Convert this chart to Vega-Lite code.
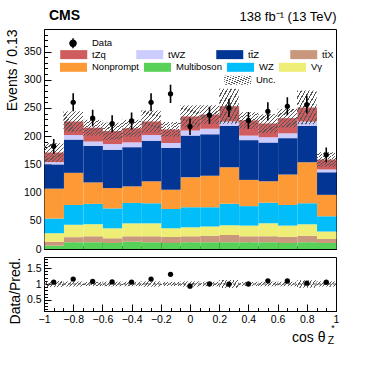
{
"$schema": "https://vega.github.io/schema/vega-lite/v6.json",
"background": "white",
"padding": {"left": 4, "top": 8, "right": 5, "bottom": 5},
"config": {
  "font": "Liberation Sans",
  "view": {"stroke": "black", "strokeWidth": 1},
  "axis": {"domainColor": "black", "tickColor": "black", "labelColor": "black", "titleColor": "black", "labelFontSize": 10.5, "titleFontSize": 14, "titleFontWeight": "normal", "grid": false, "labelFlush": false, "labelOverlap": false, "zindex": 1},
  "legend": {"labelFontSize": 9.5, "labelColor": "black", "padding": 0, "title": null},
  "title": {"color": "black"}
},
"datasets": {
  "stack": [
    {"lo":-1,"hi":-0.8667,"p":"Multiboson","k":1,"v":6},{"lo":-1,"hi":-0.8667,"p":"tt̄X","k":2,"v":7},{"lo":-1,"hi":-0.8667,"p":"Vγ","k":3,"v":15},{"lo":-1,"hi":-0.8667,"p":"WZ","k":4,"v":26},{"lo":-1,"hi":-0.8667,"p":"Nonprompt","k":5,"v":53},{"lo":-1,"hi":-0.8667,"p":"tt̄Z","k":6,"v":43},{"lo":-1,"hi":-0.8667,"p":"tWZ","k":7,"v":4},{"lo":-1,"hi":-0.8667,"p":"tZq","k":8,"v":17},
    {"lo":-0.8667,"hi":-0.7333,"p":"Multiboson","k":1,"v":12},{"lo":-0.8667,"hi":-0.7333,"p":"tt̄X","k":2,"v":9},{"lo":-0.8667,"hi":-0.7333,"p":"Vγ","k":3,"v":22},{"lo":-0.8667,"hi":-0.7333,"p":"WZ","k":4,"v":35},{"lo":-0.8667,"hi":-0.7333,"p":"Nonprompt","k":5,"v":57},{"lo":-0.8667,"hi":-0.7333,"p":"tt̄Z","k":6,"v":59},{"lo":-0.8667,"hi":-0.7333,"p":"tWZ","k":7,"v":8},{"lo":-0.8667,"hi":-0.7333,"p":"tZq","k":8,"v":24},
    {"lo":-0.7333,"hi":-0.6,"p":"Multiboson","k":1,"v":12},{"lo":-0.7333,"hi":-0.6,"p":"tt̄X","k":2,"v":10.5},{"lo":-0.7333,"hi":-0.6,"p":"Vγ","k":3,"v":21.5},{"lo":-0.7333,"hi":-0.6,"p":"WZ","k":4,"v":36},{"lo":-0.7333,"hi":-0.6,"p":"Nonprompt","k":5,"v":38},{"lo":-0.7333,"hi":-0.6,"p":"tt̄Z","k":6,"v":65},{"lo":-0.7333,"hi":-0.6,"p":"tWZ","k":7,"v":7.5},{"lo":-0.7333,"hi":-0.6,"p":"tZq","k":8,"v":24.5},
    {"lo":-0.6,"hi":-0.4667,"p":"Multiboson","k":1,"v":10.7},{"lo":-0.6,"hi":-0.4667,"p":"tt̄X","k":2,"v":8.3},{"lo":-0.6,"hi":-0.4667,"p":"Vγ","k":3,"v":17.7},{"lo":-0.6,"hi":-0.4667,"p":"WZ","k":4,"v":35.3},{"lo":-0.6,"hi":-0.4667,"p":"Nonprompt","k":5,"v":36},{"lo":-0.6,"hi":-0.4667,"p":"tt̄Z","k":6,"v":68},{"lo":-0.6,"hi":-0.4667,"p":"tWZ","k":7,"v":10},{"lo":-0.6,"hi":-0.4667,"p":"tZq","k":8,"v":23},
    {"lo":-0.4667,"hi":-0.3333,"p":"Multiboson","k":1,"v":13},{"lo":-0.4667,"hi":-0.3333,"p":"tt̄X","k":2,"v":9.5},{"lo":-0.4667,"hi":-0.3333,"p":"Vγ","k":3,"v":23},{"lo":-0.4667,"hi":-0.3333,"p":"WZ","k":4,"v":36.2},{"lo":-0.4667,"hi":-0.3333,"p":"Nonprompt","k":5,"v":29.3},{"lo":-0.4667,"hi":-0.3333,"p":"tt̄Z","k":6,"v":69.5},{"lo":-0.4667,"hi":-0.3333,"p":"tWZ","k":7,"v":8.5},{"lo":-0.4667,"hi":-0.3333,"p":"tZq","k":8,"v":25},
    {"lo":-0.3333,"hi":-0.2,"p":"Multiboson","k":1,"v":12},{"lo":-0.3333,"hi":-0.2,"p":"tt̄X","k":2,"v":10.5},{"lo":-0.3333,"hi":-0.2,"p":"Vγ","k":3,"v":23},{"lo":-0.3333,"hi":-0.2,"p":"WZ","k":4,"v":35.5},{"lo":-0.3333,"hi":-0.2,"p":"Nonprompt","k":5,"v":39},{"lo":-0.3333,"hi":-0.2,"p":"tt̄Z","k":6,"v":72},{"lo":-0.3333,"hi":-0.2,"p":"tWZ","k":7,"v":10},{"lo":-0.3333,"hi":-0.2,"p":"tZq","k":8,"v":24},
    {"lo":-0.2,"hi":-0.0667,"p":"Multiboson","k":1,"v":10.7},{"lo":-0.2,"hi":-0.0667,"p":"tt̄X","k":2,"v":10.7},{"lo":-0.2,"hi":-0.0667,"p":"Vγ","k":3,"v":15.3},{"lo":-0.2,"hi":-0.0667,"p":"WZ","k":4,"v":34.3},{"lo":-0.2,"hi":-0.0667,"p":"Nonprompt","k":5,"v":34},{"lo":-0.2,"hi":-0.0667,"p":"tt̄Z","k":6,"v":74},{"lo":-0.2,"hi":-0.0667,"p":"tWZ","k":7,"v":9},{"lo":-0.2,"hi":-0.0667,"p":"tZq","k":8,"v":24},
    {"lo":-0.0667,"hi":0.0667,"p":"Multiboson","k":1,"v":12},{"lo":-0.0667,"hi":0.0667,"p":"tt̄X","k":2,"v":10.5},{"lo":-0.0667,"hi":0.0667,"p":"Vγ","k":3,"v":16},{"lo":-0.0667,"hi":0.0667,"p":"WZ","k":4,"v":35.5},{"lo":-0.0667,"hi":0.0667,"p":"Nonprompt","k":5,"v":53},{"lo":-0.0667,"hi":0.0667,"p":"tt̄Z","k":6,"v":74},{"lo":-0.0667,"hi":0.0667,"p":"tWZ","k":7,"v":9},{"lo":-0.0667,"hi":0.0667,"p":"tZq","k":8,"v":25},
    {"lo":0.0667,"hi":0.2,"p":"Multiboson","k":1,"v":12},{"lo":0.0667,"hi":0.2,"p":"tt̄X","k":2,"v":11.7},{"lo":0.0667,"hi":0.2,"p":"Vγ","k":3,"v":16},{"lo":0.0667,"hi":0.2,"p":"WZ","k":4,"v":34.3},{"lo":0.0667,"hi":0.2,"p":"Nonprompt","k":5,"v":56},{"lo":0.0667,"hi":0.2,"p":"tt̄Z","k":6,"v":73.5},{"lo":0.0667,"hi":0.2,"p":"tWZ","k":7,"v":9.5},{"lo":0.0667,"hi":0.2,"p":"tZq","k":8,"v":25.5},
    {"lo":0.2,"hi":0.3333,"p":"Multiboson","k":1,"v":12},{"lo":0.2,"hi":0.3333,"p":"tt̄X","k":2,"v":13},{"lo":0.2,"hi":0.3333,"p":"Vγ","k":3,"v":17},{"lo":0.2,"hi":0.3333,"p":"WZ","k":4,"v":38},{"lo":0.2,"hi":0.3333,"p":"Nonprompt","k":5,"v":65},{"lo":0.2,"hi":0.3333,"p":"tt̄Z","k":6,"v":73},{"lo":0.2,"hi":0.3333,"p":"tWZ","k":7,"v":8},{"lo":0.2,"hi":0.3333,"p":"tZq","k":8,"v":27},
    {"lo":0.3333,"hi":0.4667,"p":"Multiboson","k":1,"v":12},{"lo":0.3333,"hi":0.4667,"p":"tt̄X","k":2,"v":10.5},{"lo":0.3333,"hi":0.4667,"p":"Vγ","k":3,"v":19},{"lo":0.3333,"hi":0.4667,"p":"WZ","k":4,"v":34.5},{"lo":0.3333,"hi":0.4667,"p":"Nonprompt","k":5,"v":46.5},{"lo":0.3333,"hi":0.4667,"p":"tt̄Z","k":6,"v":70.5},{"lo":0.3333,"hi":0.4667,"p":"tWZ","k":7,"v":8},{"lo":0.3333,"hi":0.4667,"p":"tZq","k":8,"v":27},
    {"lo":0.4667,"hi":0.6,"p":"Multiboson","k":1,"v":12},{"lo":0.4667,"hi":0.6,"p":"tt̄X","k":2,"v":10.5},{"lo":0.4667,"hi":0.6,"p":"Vγ","k":3,"v":23},{"lo":0.4667,"hi":0.6,"p":"WZ","k":4,"v":36.5},{"lo":0.4667,"hi":0.6,"p":"Nonprompt","k":5,"v":38},{"lo":0.4667,"hi":0.6,"p":"tt̄Z","k":6,"v":69},{"lo":0.4667,"hi":0.6,"p":"tWZ","k":7,"v":9},{"lo":0.4667,"hi":0.6,"p":"tZq","k":8,"v":24.5},
    {"lo":0.6,"hi":0.7333,"p":"Multiboson","k":1,"v":10.7},{"lo":0.6,"hi":0.7333,"p":"tt̄X","k":2,"v":10.7},{"lo":0.6,"hi":0.7333,"p":"Vγ","k":3,"v":20.1},{"lo":0.6,"hi":0.7333,"p":"WZ","k":4,"v":36.5},{"lo":0.6,"hi":0.7333,"p":"Nonprompt","k":5,"v":54},{"lo":0.6,"hi":0.7333,"p":"tt̄Z","k":6,"v":64.5},{"lo":0.6,"hi":0.7333,"p":"tWZ","k":7,"v":8.5},{"lo":0.6,"hi":0.7333,"p":"tZq","k":8,"v":27},
    {"lo":0.7333,"hi":0.8667,"p":"Multiboson","k":1,"v":12},{"lo":0.7333,"hi":0.8667,"p":"tt̄X","k":2,"v":11.7},{"lo":0.7333,"hi":0.8667,"p":"Vγ","k":3,"v":20.3},{"lo":0.7333,"hi":0.8667,"p":"WZ","k":4,"v":37},{"lo":0.7333,"hi":0.8667,"p":"Nonprompt","k":5,"v":73},{"lo":0.7333,"hi":0.8667,"p":"tt̄Z","k":6,"v":64},{"lo":0.7333,"hi":0.8667,"p":"tWZ","k":7,"v":8},{"lo":0.7333,"hi":0.8667,"p":"tZq","k":8,"v":25},
    {"lo":0.8667,"hi":1,"p":"Multiboson","k":1,"v":10.7},{"lo":0.8667,"hi":1,"p":"tt̄X","k":2,"v":7.1},{"lo":0.8667,"hi":1,"p":"Vγ","k":3,"v":13.2},{"lo":0.8667,"hi":1,"p":"WZ","k":4,"v":27},{"lo":0.8667,"hi":1,"p":"Nonprompt","k":5,"v":38},{"lo":0.8667,"hi":1,"p":"tt̄Z","k":6,"v":40},{"lo":0.8667,"hi":1,"p":"tWZ","k":7,"v":5},{"lo":0.8667,"hi":1,"p":"tZq","k":8,"v":17.6}
  ],
  "bins": [
    {"lo":-1,"hi":-0.8667,"c":-0.9333,"ulo":154.5,"uhi":187.5,"d":182,"dlo":169,"dhi":195,"r":1.06,"rlo":0.904,"rhi":1.096},
    {"lo":-0.8667,"hi":-0.7333,"c":-0.8,"ulo":208,"uhi":244,"d":260,"dlo":244,"dhi":276,"r":1.155,"rlo":0.92,"rhi":1.08},
    {"lo":-0.7333,"hi":-0.6,"c":-0.6667,"ulo":201,"uhi":229,"d":232,"dlo":217,"dhi":247,"r":1.08,"rlo":0.935,"rhi":1.065},
    {"lo":-0.6,"hi":-0.4667,"c":-0.5333,"ulo":194,"uhi":224,"d":222,"dlo":207,"dhi":237,"r":1.065,"rlo":0.928,"rhi":1.072},
    {"lo":-0.4667,"hi":-0.3333,"c":-0.4,"ulo":199,"uhi":229,"d":227,"dlo":212,"dhi":242,"r":1.06,"rlo":0.93,"rhi":1.07},
    {"lo":-0.3333,"hi":-0.2,"c":-0.2667,"ulo":206.5,"uhi":245.5,"d":260,"dlo":244,"dhi":276,"r":1.155,"rlo":0.914,"rhi":1.086},
    {"lo":-0.2,"hi":-0.0667,"c":-0.1333,"ulo":199,"uhi":225,"d":275,"dlo":259,"dhi":291,"r":1.305,"rlo":0.939,"rhi":1.061},
    {"lo":-0.0667,"hi":0.0667,"c":0,"ulo":215.5,"uhi":254.5,"d":217,"dlo":202,"dhi":232,"r":0.93,"rlo":0.917,"rhi":1.083},
    {"lo":0.0667,"hi":0.2,"c":0.1333,"ulo":222,"uhi":255,"d":237,"dlo":222,"dhi":252,"r":1.0,"rlo":0.931,"rhi":1.069},
    {"lo":0.2,"hi":0.3333,"c":0.2667,"ulo":222,"uhi":284,"d":250,"dlo":234,"dhi":266,"r":0.995,"rlo":0.877,"rhi":1.123},
    {"lo":0.3333,"hi":0.4667,"c":0.4,"ulo":213.5,"uhi":242.5,"d":228,"dlo":213,"dhi":243,"r":1.0,"rlo":0.936,"rhi":1.064},
    {"lo":0.4667,"hi":0.6,"c":0.5333,"ulo":206,"uhi":239,"d":244,"dlo":228,"dhi":260,"r":1.1,"rlo":0.926,"rhi":1.074},
    {"lo":0.6,"hi":0.7333,"c":0.6667,"ulo":215.5,"uhi":248.5,"d":253,"dlo":237,"dhi":269,"r":1.095,"rlo":0.929,"rhi":1.071},
    {"lo":0.7333,"hi":0.8667,"c":0.8,"ulo":221,"uhi":281,"d":256,"dlo":240,"dhi":272,"r":1.025,"rlo":0.88,"rhi":1.12},
    {"lo":0.8667,"hi":1,"c":0.9333,"ulo":145.6,"uhi":171.6,"d":167,"dlo":154,"dhi":180,"r":1.055,"rlo":0.918,"rhi":1.082}
  ]
},
"title": {"text": "CMS", "anchor": "start", "frame": "group", "fontSize": 14, "fontWeight": "bold", "dy": 16, "dx": 5},
"spacing": 1,
"vconcat": [
  {
    "width": 292, "height": 220,
    "title": {"text": "138 fb⁻¹ (13 TeV)", "anchor": "end", "fontSize": 13, "fontWeight": "normal", "offset": 5},
    "layer": [
      {
        "data": {"name": "stack"},
        "mark": {"type": "bar", "binSpacing": 0, "strokeWidth": 0},
        "encoding": {
          "x": {"field": "lo", "type": "quantitative", "bin": {"binned": true, "step": 0.13333}, "scale": {"domain": [-1, 1], "nice": false, "zero": false},
            "axis": {"orient": "bottom", "title": null, "labels": false, "values": [-1,-0.8,-0.6,-0.4,-0.2,0,0.2,0.4,0.6,0.8,1], "tickSize": -7}},
          "x2": {"field": "hi"},
          "y": {"field": "v", "type": "quantitative", "stack": "zero", "scale": {"domain": [0, 390], "nice": false},
            "axis": {"orient": "left", "title": "Events / 0.13", "titleAnchor": "end", "values": [0,50,100,150,200,250,300,350], "tickSize": -7, "labelPadding": 10}},
          "fill": {"field": "p", "type": "nominal",
            "scale": {"domain": ["tZq","tWZ","tt̄Z","tt̄X","Nonprompt","Multiboson","WZ","Vγ"], "range": ["#cf5c5e","#ccccff","#033694","#c8977c","#fe9a36","#57d158","#01bdf9","#eeee77"]},
            "legend": {"orient": "none", "direction": "horizontal", "legendX": 16, "legendY": 20.5, "values": ["tZq","tWZ","tt̄Z","tt̄X"], "columnPadding": 30, "symbolType": "M-1,-1H5V1H-1Z", "symbolSize": 81, "symbolStrokeWidth": 0, "labelOffset": 22.5, "symbolOpacity": 1}},
          "stroke": {"field": "p", "type": "nominal",
            "scale": {"domain": ["Nonprompt","Multiboson","WZ","Vγ","tZq","tWZ","tt̄Z","tt̄X"], "range": ["#fe9a36","#57d158","#01bdf9","#eeee77","#cf5c5e","#ccccff","#033694","#c8977c"]},
            "legend": {"orient": "none", "direction": "horizontal", "legendX": 16, "legendY": 29.3, "values": ["Nonprompt","Multiboson","WZ","Vγ"], "columnPadding": -13, "symbolType": "M-2,0H4", "symbolSize": 81, "symbolStrokeWidth": 9, "labelOffset": 14, "symbolOpacity": 1}},
          "order": {"field": "k", "type": "quantitative", "sort": "ascending"}
        }
      },
      {
        "data": {"name": "bins"},
        "mark": {"type": "rect", "strokeWidth": 0, "fill": {"gradient": "linear", "x1": 0, "y1": 0, "x2": 1, "y2": 1, "stops": [
          {"offset":0,"color":"#555555"},{"offset":0.03,"color":"#555555"},{"offset":0.03,"color":"rgba(255,255,255,0)"},{"offset":0.1,"color":"rgba(255,255,255,0)"},
          {"offset":0.1,"color":"#555555"},{"offset":0.13,"color":"#555555"},{"offset":0.13,"color":"rgba(255,255,255,0)"},{"offset":0.2,"color":"rgba(255,255,255,0)"},
          {"offset":0.2,"color":"#555555"},{"offset":0.23,"color":"#555555"},{"offset":0.23,"color":"rgba(255,255,255,0)"},{"offset":0.3,"color":"rgba(255,255,255,0)"},
          {"offset":0.3,"color":"#555555"},{"offset":0.33,"color":"#555555"},{"offset":0.33,"color":"rgba(255,255,255,0)"},{"offset":0.4,"color":"rgba(255,255,255,0)"},
          {"offset":0.4,"color":"#555555"},{"offset":0.43,"color":"#555555"},{"offset":0.43,"color":"rgba(255,255,255,0)"},{"offset":0.5,"color":"rgba(255,255,255,0)"},
          {"offset":0.5,"color":"#555555"},{"offset":0.53,"color":"#555555"},{"offset":0.53,"color":"rgba(255,255,255,0)"},{"offset":0.6,"color":"rgba(255,255,255,0)"},
          {"offset":0.6,"color":"#555555"},{"offset":0.63,"color":"#555555"},{"offset":0.63,"color":"rgba(255,255,255,0)"},{"offset":0.7,"color":"rgba(255,255,255,0)"},
          {"offset":0.7,"color":"#555555"},{"offset":0.73,"color":"#555555"},{"offset":0.73,"color":"rgba(255,255,255,0)"},{"offset":0.8,"color":"rgba(255,255,255,0)"},
          {"offset":0.8,"color":"#555555"},{"offset":0.83,"color":"#555555"},{"offset":0.83,"color":"rgba(255,255,255,0)"},{"offset":0.9,"color":"rgba(255,255,255,0)"},
          {"offset":0.9,"color":"#555555"},{"offset":0.93,"color":"#555555"},{"offset":0.93,"color":"rgba(255,255,255,0)"},{"offset":1,"color":"rgba(255,255,255,0)"}]}},
        "encoding": {
          "x": {"field": "lo", "type": "quantitative",
            "axis": {"orient": "bottom", "title": null, "labels": false, "domain": false, "values": [-1,-0.9333,-0.8667,-0.8,-0.7333,-0.6667,-0.6,-0.5333,-0.4667,-0.4,-0.3333,-0.2667,-0.2,-0.1333,-0.0667,0,0.0667,0.1333,0.2,0.2667,0.3333,0.4,0.4667,0.5333,0.6,0.6667,0.7333,0.8,0.8667,0.9333,1], "tickSize": -3.5}},
          "x2": {"field": "hi"},
          "y": {"field": "ulo", "type": "quantitative",
            "axis": {"orient": "left", "title": null, "labels": false, "domain": false, "values": [0,10,20,30,40,50,60,70,80,90,100,110,120,130,140,150,160,170,180,190,200,210,220,230,240,250,260,270,280,290,300,310,320,330,340,350,360,370,380], "tickSize": -3.5}},
          "y2": {"field": "uhi"},
          "stroke": {"datum": "Unc.", "type": "nominal", "scale": {"range": ["#555555"]},
            "legend": {"orient": "none", "legendX": 180, "legendY": 46.5, "symbolType": "M-1,-1H5V1H-1Z", "symbolSize": 81, "symbolStrokeWidth": 0, "labelOffset": 22.5,
              "encode": {"symbols": {"update": {"strokeWidth": {"value": 0}, "fill": {"value": {"gradient": "linear", "x1": 0, "y1": 0, "x2": 1.2, "y2": 0.39, "stops": [
          {"offset":0,"color":"#555555"},{"offset":0.03,"color":"#555555"},{"offset":0.03,"color":"rgba(255,255,255,0)"},{"offset":0.1,"color":"rgba(255,255,255,0)"},
          {"offset":0.1,"color":"#555555"},{"offset":0.13,"color":"#555555"},{"offset":0.13,"color":"rgba(255,255,255,0)"},{"offset":0.2,"color":"rgba(255,255,255,0)"},
          {"offset":0.2,"color":"#555555"},{"offset":0.23,"color":"#555555"},{"offset":0.23,"color":"rgba(255,255,255,0)"},{"offset":0.3,"color":"rgba(255,255,255,0)"},
          {"offset":0.3,"color":"#555555"},{"offset":0.33,"color":"#555555"},{"offset":0.33,"color":"rgba(255,255,255,0)"},{"offset":0.4,"color":"rgba(255,255,255,0)"},
          {"offset":0.4,"color":"#555555"},{"offset":0.43,"color":"#555555"},{"offset":0.43,"color":"rgba(255,255,255,0)"},{"offset":0.5,"color":"rgba(255,255,255,0)"},
          {"offset":0.5,"color":"#555555"},{"offset":0.53,"color":"#555555"},{"offset":0.53,"color":"rgba(255,255,255,0)"},{"offset":0.6,"color":"rgba(255,255,255,0)"},
          {"offset":0.6,"color":"#555555"},{"offset":0.63,"color":"#555555"},{"offset":0.63,"color":"rgba(255,255,255,0)"},{"offset":0.7,"color":"rgba(255,255,255,0)"},
          {"offset":0.7,"color":"#555555"},{"offset":0.73,"color":"#555555"},{"offset":0.73,"color":"rgba(255,255,255,0)"},{"offset":0.8,"color":"rgba(255,255,255,0)"},
          {"offset":0.8,"color":"#555555"},{"offset":0.83,"color":"#555555"},{"offset":0.83,"color":"rgba(255,255,255,0)"},{"offset":0.9,"color":"rgba(255,255,255,0)"},
          {"offset":0.9,"color":"#555555"},{"offset":0.93,"color":"#555555"},{"offset":0.93,"color":"rgba(255,255,255,0)"},{"offset":1,"color":"rgba(255,255,255,0)"}]}}}}}}}
        }
      },
      {
        "data": {"name": "bins"},
        "mark": {"type": "rule", "color": "black", "strokeWidth": 1.6},
        "encoding": {
          "x": {"field": "c", "type": "quantitative", "axis": null},
          "y": {"field": "dlo", "type": "quantitative", "axis": null},
          "y2": {"field": "dhi"},
          "strokeDash": {"datum": "Data", "type": "nominal", "scale": {"range": [[1, 0]]},
            "legend": {"orient": "none", "legendX": 16, "legendY": 8.8, "symbolType": "M1.67,-1.1V1.1M2.34,0A0.67,0.67 0 1,1 1.0,0A0.67,0.67 0 1,1 2.34,0Z", "symbolSize": 81, "symbolFillColor": "black", "symbolStrokeColor": "black", "symbolStrokeWidth": 1.5, "labelOffset": 21}}
        }
      },
      {
        "data": {"name": "bins"},
        "mark": {"type": "point", "filled": true, "color": "black", "opacity": 1, "size": 28},
        "encoding": {
          "x": {"field": "c", "type": "quantitative", "axis": null},
          "y": {"field": "d", "type": "quantitative", "axis": null}
        }
      }
    ],
    "resolve": {"scale": {"fill": "independent", "stroke": "independent"}, "axis": {"x": "independent", "y": "independent"}}
  },
  {
    "width": 292, "height": 54,
    "layer": [
      {
        "data": {"name": "bins"},
        "mark": {"type": "rect", "strokeWidth": 0, "fill": {"gradient": "linear", "x1": 0, "y1": 0, "x2": 1.2, "y2": 0.3, "stops": [
          {"offset":0,"color":"#555555"},{"offset":0.043,"color":"#555555"},{"offset":0.043,"color":"rgba(255,255,255,0)"},{"offset":0.1429,"color":"rgba(255,255,255,0)"},
          {"offset":0.1429,"color":"#555555"},{"offset":0.186,"color":"#555555"},{"offset":0.186,"color":"rgba(255,255,255,0)"},{"offset":0.2857,"color":"rgba(255,255,255,0)"},
          {"offset":0.2857,"color":"#555555"},{"offset":0.329,"color":"#555555"},{"offset":0.329,"color":"rgba(255,255,255,0)"},{"offset":0.4286,"color":"rgba(255,255,255,0)"},
          {"offset":0.4286,"color":"#555555"},{"offset":0.472,"color":"#555555"},{"offset":0.472,"color":"rgba(255,255,255,0)"},{"offset":0.5714,"color":"rgba(255,255,255,0)"},
          {"offset":0.5714,"color":"#555555"},{"offset":0.614,"color":"#555555"},{"offset":0.614,"color":"rgba(255,255,255,0)"},{"offset":0.7143,"color":"rgba(255,255,255,0)"},
          {"offset":0.7143,"color":"#555555"},{"offset":0.757,"color":"#555555"},{"offset":0.757,"color":"rgba(255,255,255,0)"},{"offset":0.8571,"color":"rgba(255,255,255,0)"},
          {"offset":0.8571,"color":"#555555"},{"offset":0.9,"color":"#555555"},{"offset":0.9,"color":"rgba(255,255,255,0)"},{"offset":1,"color":"rgba(255,255,255,0)"}]}},
        "encoding": {
          "x": {"field": "lo", "type": "quantitative", "scale": {"domain": [-1, 1], "nice": false, "zero": false},
            "axis": {"orient": "bottom", "title": "cos θ", "titleAnchor": "end", "titleX": 281, "titleAlign": "right", "titlePadding": 6, "format": ".1~f",
              "values": [-1,-0.8,-0.6,-0.4,-0.2,0,0.2,0.4,0.6,0.8,1], "tickSize": -7, "labelPadding": 10}},
          "x2": {"field": "hi"},
          "y": {"field": "rlo", "type": "quantitative", "scale": {"domain": [0.15, 1.85], "nice": false, "zero": false},
            "axis": {"orient": "left", "title": "Data/Pred.", "titleAnchor": "end", "format": "~g", "values": [0.5, 1, 1.5], "tickSize": -7, "labelPadding": 10}},
          "y2": {"field": "rhi"}
        }
      },
      {
        "data": {"values": [{}]},
        "mark": {"type": "rule", "color": "#555555", "strokeWidth": 1, "strokeDash": [3, 2]},
        "encoding": {"y": {"datum": 1, "type": "quantitative", "axis": null}}
      },
      {
        "data": {"name": "bins"},
        "mark": {"type": "point", "filled": true, "color": "black", "opacity": 1, "size": 28},
        "encoding": {
          "x": {"field": "c", "type": "quantitative",
            "axis": {"orient": "bottom", "title": null, "labels": false, "domain": false, "values": [-1,-0.9333,-0.8667,-0.8,-0.7333,-0.6667,-0.6,-0.5333,-0.4667,-0.4,-0.3333,-0.2667,-0.2,-0.1333,-0.0667,0,0.0667,0.1333,0.2,0.2667,0.3333,0.4,0.4667,0.5333,0.6,0.6667,0.7333,0.8,0.8667,0.9333,1], "tickSize": -3.5}},
          "y": {"field": "r", "type": "quantitative",
            "axis": {"orient": "left", "title": null, "labels": false, "domain": false, "values": [0.2,0.3,0.4,0.5,0.6,0.7,0.8,0.9,1,1.1,1.2,1.3,1.4,1.5,1.6,1.7,1.8], "tickSize": -3.5}}
        }
      },
      {
        "data": {"values": [{}]},
        "mark": {"type": "text", "text": "*", "fontSize": 9, "align": "center", "baseline": "alphabetic", "dx": -3, "dy": 20},
        "encoding": {"x": {"datum": 1, "type": "quantitative", "axis": null}, "y": {"datum": 0.15, "type": "quantitative", "axis": null}}
      },
      {
        "data": {"values": [{}]},
        "mark": {"type": "text", "text": "Z", "fontSize": 10.5, "align": "center", "baseline": "alphabetic", "dx": -5, "dy": 33},
        "encoding": {"x": {"datum": 1, "type": "quantitative", "axis": null}, "y": {"datum": 0.15, "type": "quantitative", "axis": null}}
      }
    ],
    "resolve": {"axis": {"x": "independent", "y": "independent"}}
  }
]
}
